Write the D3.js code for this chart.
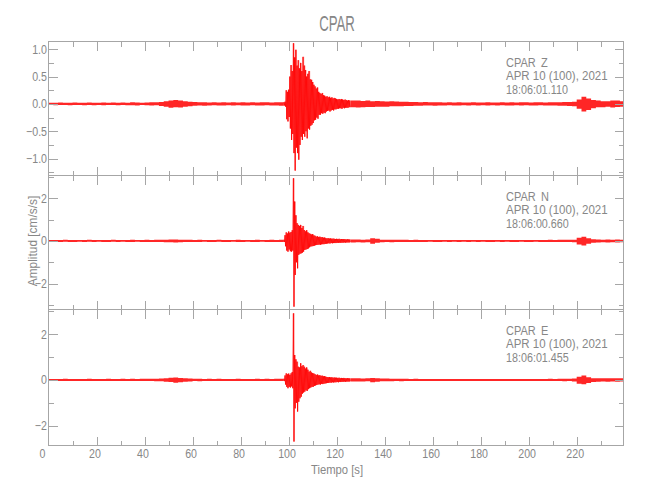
<!DOCTYPE html>
<html><head><meta charset="utf-8">
<script src="https://cdn.jsdelivr.net/npm/d3@7"></script>
<style>
body{margin:0;background:#fff}
text{font-family:"Liberation Sans",Arial,sans-serif;fill:#878787}
</style>
</head><body>
<svg id="chart" width="650" height="500"></svg>
<script>
// ---------------- data ----------------
const station = "CPAR";
const components = ["Z", "N", "E"];
const dateLabel = "APR 10 (100), 2021";
const startTimes = ["18:06:01.110", "18:06:00.660", "18:06:01.455"];
const xLabel = "Tiempo [s]";
const yLabel = "Amplitud [cm/s/s]";

const yLimits = [[-1.30, 1.15], [-3.18, 3.08], [-2.84, 3.10]];
const yMajorTicks = [[-1, -0.5, 0, 0.5, 1], [-2, 0, 2], [-2, 0, 2]];
const yMinorTicks = [[-1.25, -0.75, -0.25, 0.25, 0.75], [-3, -1, 1, 3], [-1, 1, 3]];
const yTickDecimals = [1, 0, 0];
const xLimits = [0, 239.5];
const xMajorTicks = [0, 20, 40, 60, 80, 100, 120, 140, 160, 180, 200, 220];
const xMinorTicks = [10, 30, 50, 70, 90, 110, 130, 150, 170, 190, 210, 230];

// sampling segments: [start time, step] ; values are [max, min] envelope per sample
const segPre = [0, 2];
const segEvent = [98, 0.5];
const segPost = [126, 2];

const zPre = [[0.02,-0.02],[0.02,-0.025],[0.025,-0.02],[0.02,-0.02],[0.02,-0.025],[0.025,-0.02],[0.02,-0.02],[0.02,-0.025],[0.025,-0.02],[0.02,-0.025],[0.02,-0.02],[0.025,-0.025],[0.02,-0.02],[0.025,-0.02],[0.02,-0.025],[0.025,-0.02],[0.02,-0.025],[0.03,-0.025],[0.025,-0.03],[0.02,-0.02],[0.025,-0.025],[0.03,-0.03],[0.03,-0.025],[0.035,-0.04],[0.05,-0.05],[0.06,-0.07],[0.07,-0.06],[0.06,-0.065],[0.05,-0.05],[0.04,-0.045],[0.035,-0.035],[0.03,-0.03],[0.03,-0.035],[0.025,-0.03],[0.03,-0.025],[0.025,-0.03],[0.03,-0.03],[0.025,-0.025],[0.03,-0.03],[0.025,-0.025],[0.03,-0.03],[0.025,-0.03],[0.03,-0.025],[0.025,-0.03],[0.03,-0.03],[0.03,-0.025],[0.025,-0.03],[0.03,-0.03],[0.03,-0.035]];
const zEvent = [[0.03,-0.03],[0.04,-0.05],[0.25,-0.28],[0.22,-0.32],[0.26,-0.24],[0.5,-0.45],[0.71,-0.66],[0.6,-0.55],[1.11,-0.9],[0.85,-1.22],[0.99,-0.8],[0.7,-0.9],[0.8,-1.02],[0.65,-0.75],[0.75,-0.6],[0.6,-0.66],[0.86,-0.55],[0.7,-0.6],[0.62,-0.5],[0.5,-0.63],[0.55,-0.45],[0.6,-0.47],[0.45,-0.4],[0.44,-0.38],[0.4,-0.35],[0.35,-0.3],[0.32,-0.29],[0.28,-0.25],[0.3,-0.27],[0.22,-0.2],[0.2,-0.2],[0.18,-0.17],[0.2,-0.18],[0.16,-0.16],[0.15,-0.17],[0.13,-0.14],[0.14,-0.13],[0.12,-0.12],[0.13,-0.14],[0.11,-0.12],[0.12,-0.11],[0.1,-0.12],[0.11,-0.1],[0.1,-0.1],[0.09,-0.09],[0.08,-0.09],[0.09,-0.08],[0.08,-0.08],[0.09,-0.09],[0.08,-0.07],[0.07,-0.08],[0.08,-0.07],[0.07,-0.07],[0.06,-0.07],[0.07,-0.06],[0.06,-0.06]];
const zPost = [[0.06,-0.06],[0.06,-0.065],[0.055,-0.06],[0.06,-0.055],[0.05,-0.055],[0.055,-0.05],[0.05,-0.05],[0.045,-0.05],[0.05,-0.045],[0.045,-0.045],[0.04,-0.045],[0.04,-0.04],[0.035,-0.04],[0.035,-0.035],[0.03,-0.035],[0.035,-0.03],[0.03,-0.03],[0.03,-0.035],[0.03,-0.03],[0.025,-0.03],[0.03,-0.025],[0.025,-0.03],[0.03,-0.03],[0.025,-0.025],[0.025,-0.03],[0.03,-0.025],[0.025,-0.03],[0.025,-0.025],[0.03,-0.03],[0.025,-0.025],[0.025,-0.03],[0.03,-0.025],[0.025,-0.03],[0.03,-0.03],[0.025,-0.025],[0.03,-0.03],[0.03,-0.025],[0.025,-0.03],[0.03,-0.03],[0.03,-0.025],[0.025,-0.03],[0.03,-0.03],[0.03,-0.03],[0.03,-0.035],[0.035,-0.035],[0.035,-0.04],[0.04,-0.045],[0.08,-0.09],[0.13,-0.14],[0.1,-0.11],[0.07,-0.08],[0.06,-0.06],[0.05,-0.06],[0.05,-0.05],[0.06,-0.065],[0.06,-0.055],[0.05,-0.05]];

const nPre = [[0.04,-0.045],[0.045,-0.04],[0.04,-0.045],[0.05,-0.04],[0.04,-0.045],[0.045,-0.05],[0.04,-0.04],[0.045,-0.045],[0.05,-0.04],[0.04,-0.045],[0.045,-0.04],[0.04,-0.05],[0.045,-0.045],[0.05,-0.04],[0.04,-0.045],[0.045,-0.04],[0.04,-0.045],[0.05,-0.05],[0.045,-0.04],[0.04,-0.045],[0.05,-0.045],[0.045,-0.05],[0.05,-0.045],[0.055,-0.05],[0.06,-0.06],[0.07,-0.065],[0.065,-0.07],[0.06,-0.06],[0.055,-0.05],[0.05,-0.05],[0.045,-0.05],[0.05,-0.045],[0.045,-0.04],[0.04,-0.045],[0.045,-0.045],[0.05,-0.04],[0.045,-0.045],[0.04,-0.05],[0.045,-0.04],[0.05,-0.045],[0.045,-0.045],[0.04,-0.04],[0.045,-0.05],[0.05,-0.045],[0.045,-0.04],[0.04,-0.045],[0.05,-0.05],[0.045,-0.045],[0.05,-0.05]];
const nEvent = [[0.05,-0.05],[0.27,-0.25],[0.4,-0.45],[0.35,-0.5],[0.44,-0.4],[0.38,-0.48],[0.42,-0.5],[0.5,-0.45],[2.93,-3.07],[1.84,-1.59],[1.2,-1.0],[0.83,-1.28],[0.75,-0.65],[0.7,-0.6],[0.75,-0.58],[0.6,-0.55],[0.7,-0.5],[0.51,-0.42],[0.45,-0.4],[0.5,-0.38],[0.4,-0.35],[0.36,-0.3],[0.33,-0.26],[0.3,-0.25],[0.32,-0.24],[0.26,-0.22],[0.24,-0.2],[0.2,-0.19],[0.22,-0.18],[0.18,-0.17],[0.2,-0.18],[0.17,-0.16],[0.18,-0.15],[0.15,-0.15],[0.16,-0.14],[0.13,-0.13],[0.12,-0.12],[0.13,-0.11],[0.11,-0.12],[0.12,-0.1],[0.1,-0.11],[0.11,-0.1],[0.1,-0.1],[0.09,-0.1],[0.1,-0.09],[0.09,-0.09],[0.1,-0.08],[0.08,-0.09],[0.09,-0.08],[0.08,-0.08],[0.09,-0.07],[0.08,-0.08],[0.07,-0.07],[0.08,-0.07],[0.07,-0.07],[0.07,-0.06]];
const nPost = [[0.07,-0.07],[0.07,-0.065],[0.06,-0.07],[0.07,-0.06],[0.12,-0.13],[0.1,-0.09],[0.06,-0.06],[0.06,-0.055],[0.055,-0.06],[0.05,-0.05],[0.05,-0.055],[0.05,-0.045],[0.045,-0.05],[0.05,-0.045],[0.045,-0.045],[0.04,-0.045],[0.045,-0.04],[0.04,-0.045],[0.045,-0.045],[0.04,-0.04],[0.04,-0.045],[0.045,-0.04],[0.04,-0.045],[0.04,-0.04],[0.045,-0.045],[0.04,-0.04],[0.04,-0.045],[0.045,-0.04],[0.04,-0.045],[0.045,-0.045],[0.04,-0.04],[0.04,-0.045],[0.045,-0.04],[0.04,-0.045],[0.045,-0.045],[0.04,-0.04],[0.045,-0.045],[0.04,-0.045],[0.045,-0.04],[0.04,-0.045],[0.045,-0.045],[0.05,-0.045],[0.045,-0.05],[0.05,-0.05],[0.05,-0.055],[0.055,-0.05],[0.06,-0.065],[0.15,-0.17],[0.2,-0.21],[0.12,-0.13],[0.08,-0.08],[0.07,-0.075],[0.06,-0.065],[0.07,-0.07],[0.06,-0.065],[0.07,-0.07],[0.06,-0.06]];

const ePre = [[0.045,-0.04],[0.04,-0.045],[0.045,-0.045],[0.05,-0.04],[0.04,-0.045],[0.045,-0.05],[0.045,-0.04],[0.04,-0.045],[0.05,-0.045],[0.045,-0.04],[0.04,-0.045],[0.045,-0.05],[0.05,-0.045],[0.045,-0.04],[0.04,-0.045],[0.05,-0.05],[0.045,-0.045],[0.05,-0.045],[0.045,-0.05],[0.05,-0.045],[0.05,-0.05],[0.055,-0.05],[0.05,-0.055],[0.06,-0.055],[0.07,-0.075],[0.1,-0.09],[0.11,-0.12],[0.09,-0.1],[0.07,-0.075],[0.06,-0.065],[0.055,-0.05],[0.05,-0.055],[0.045,-0.05],[0.05,-0.045],[0.045,-0.045],[0.05,-0.05],[0.045,-0.045],[0.04,-0.045],[0.045,-0.05],[0.05,-0.045],[0.045,-0.04],[0.04,-0.045],[0.045,-0.045],[0.05,-0.05],[0.045,-0.045],[0.05,-0.045],[0.045,-0.05],[0.05,-0.05],[0.055,-0.05]];
const eEvent = [[0.05,-0.05],[0.2,-0.2],[0.29,-0.3],[0.25,-0.36],[0.28,-0.3],[0.22,-0.33],[0.29,-0.28],[0.35,-0.36],[2.91,-2.69],[1.09,-1.24],[0.9,-1.0],[0.8,-1.38],[0.58,-0.95],[0.55,-0.8],[0.73,-0.73],[0.6,-0.6],[0.65,-0.55],[0.58,-0.51],[0.5,-0.45],[0.55,-0.48],[0.45,-0.4],[0.36,-0.36],[0.4,-0.33],[0.33,-0.3],[0.3,-0.3],[0.28,-0.26],[0.25,-0.24],[0.22,-0.22],[0.24,-0.2],[0.2,-0.19],[0.21,-0.2],[0.18,-0.17],[0.19,-0.18],[0.16,-0.16],[0.17,-0.15],[0.14,-0.14],[0.13,-0.13],[0.12,-0.13],[0.13,-0.11],[0.11,-0.12],[0.12,-0.1],[0.1,-0.11],[0.11,-0.1],[0.1,-0.1],[0.1,-0.09],[0.09,-0.1],[0.1,-0.08],[0.08,-0.09],[0.09,-0.08],[0.08,-0.08],[0.09,-0.07],[0.08,-0.08],[0.07,-0.07],[0.08,-0.07],[0.07,-0.07],[0.07,-0.06]];
const ePost = [[0.07,-0.07],[0.07,-0.065],[0.065,-0.07],[0.07,-0.06],[0.09,-0.095],[0.08,-0.075],[0.06,-0.06],[0.06,-0.055],[0.055,-0.06],[0.05,-0.05],[0.05,-0.055],[0.05,-0.045],[0.045,-0.05],[0.05,-0.045],[0.045,-0.045],[0.04,-0.045],[0.045,-0.04],[0.045,-0.045],[0.045,-0.045],[0.04,-0.04],[0.045,-0.045],[0.045,-0.04],[0.04,-0.045],[0.045,-0.045],[0.045,-0.045],[0.04,-0.04],[0.045,-0.045],[0.045,-0.04],[0.04,-0.045],[0.045,-0.045],[0.045,-0.04],[0.04,-0.045],[0.045,-0.045],[0.045,-0.045],[0.045,-0.045],[0.04,-0.045],[0.045,-0.045],[0.045,-0.045],[0.045,-0.04],[0.045,-0.045],[0.045,-0.045],[0.05,-0.045],[0.045,-0.05],[0.05,-0.05],[0.05,-0.055],[0.055,-0.05],[0.06,-0.065],[0.14,-0.16],[0.2,-0.19],[0.12,-0.13],[0.08,-0.085],[0.07,-0.075],[0.07,-0.07],[0.08,-0.075],[0.07,-0.07],[0.08,-0.08],[0.07,-0.07]];

const traces = [[zPre, zEvent, zPost], [nPre, nEvent, nPost], [ePre, eEvent, ePost]];
const segments = [segPre, segEvent, segPost];

// ---------------- layout ----------------
const W = 650, H = 500;
const left = 48.5, right = 623.5;
const panelTops = [41, 175, 309];
const panelBottoms = [175, 309, 445];
const axisColor = "#a6a6a6";
const traceColor = "#ff0000";

const svg = d3.select("#chart");
svg.append("rect").attr("width", W).attr("height", H).attr("fill", "#fff");

function narrow(sel, k) {
  const n = sel.node();
  const len = n.getComputedTextLength();
  sel.attr("textLength", len * k).attr("lengthAdjust", "spacingAndGlyphs");
  return sel;
}

const x = d3.scaleLinear().domain(xLimits).range([left, right]);

narrow(svg.append("text").attr("x", 337).attr("y", 31).attr("text-anchor", "middle")
  .style("font-size", "22px").text(station), 0.6);

components.forEach((comp, p) => {
  const top = panelTops[p], bot = panelBottoms[p];
  const y = d3.scaleLinear().domain(yLimits[p]).range([bot, top]);
  const g = svg.append("g");

  const cid = "clip" + p;
  svg.append("clipPath").attr("id", cid).append("rect")
    .attr("x", left).attr("y", top).attr("width", right - left).attr("height", bot - top);

  // envelope samples -> time-stamped records
  const recs = [];
  traces[p].forEach((seg, s) => {
    const [t0, dt] = segments[s];
    seg.forEach((v, i) => recs.push({ t: t0 + i * dt, dt: dt, hi: v[0], lo: v[1], ev: s === 1 }));
  });
  const area = d3.area().x(d => x(d.t)).y0(d => y(d.lo)).y1(d => y(d.hi)).curve(d3.curveStepAfter);
  // each step covers its own sampling interval
  const withEnd = arr => { const l = arr[arr.length - 1]; return arr.concat([{ ...l, t: l.t + l.dt }]); };
  const quietA = recs.filter(r => r.t < segEvent[0]);
  const evRecs = recs.filter(r => r.ev);
  const quietB = recs.filter(r => r.t >= segPost[0]);
  [quietA, quietB].forEach(q => {
    g.append("path").attr("d", area(withEnd(q))).attr("clip-path", `url(#${cid})`)
      .attr("fill", traceColor).attr("fill-opacity", 0.85);
  });
  // event part: translucent envelope + oscillating trace through the extremes
  g.append("path").attr("d", area(withEnd(evRecs))).attr("clip-path", `url(#${cid})`)
    .attr("fill", traceColor).attr("fill-opacity", 0.42);
  const pts = [];
  evRecs.forEach(r => { pts.push([r.t, r.hi]); pts.push([r.t + r.dt / 2, r.lo]); });
  const line = d3.line().x(d => x(d[0])).y(d => y(d[1]));
  g.append("path").attr("d", line(pts)).attr("clip-path", `url(#${cid})`)
    .attr("fill", "none").attr("stroke", traceColor).attr("stroke-width", 0.8);

  // frame
  g.append("rect").attr("x", left).attr("y", top + 0.5).attr("width", right - left).attr("height", bot - top)
    .attr("fill", "none").attr("stroke", axisColor).attr("stroke-width", 1).attr("shape-rendering", "crispEdges");

  const tk = g.append("g").attr("stroke", axisColor).attr("stroke-width", 1).attr("shape-rendering", "crispEdges");
  const xt = xMajorTicks.map(v => [v, 9]).concat(xMinorTicks.map(v => [v, 5]));
  xt.forEach(([v, len]) => {
    if (v <= xLimits[0]) return;
    const px = Math.round(x(v)) + 0.5;
    tk.append("line").attr("x1", px).attr("x2", px).attr("y1", bot + 0.5).attr("y2", bot + 0.5 - len);
    tk.append("line").attr("x1", px).attr("x2", px).attr("y1", top + 0.5).attr("y2", top + 0.5 + len);
  });
  const yt = yMajorTicks[p].map(v => [v, 9]).concat(yMinorTicks[p].map(v => [v, 5]));
  yt.forEach(([v, len]) => {
    const py = Math.round(y(v)) + 0.5;
    tk.append("line").attr("x1", left).attr("x2", left + len).attr("y1", py).attr("y2", py);
    tk.append("line").attr("x1", right).attr("x2", right - len).attr("y1", py).attr("y2", py);
  });
  yMajorTicks[p].forEach(v => {
    const s = (v < 0 ? "\u2212" : "") + Math.abs(v).toFixed(yTickDecimals[p]);
    narrow(g.append("text").attr("x", left - 1.5).attr("y", y(v) + 4.5).attr("text-anchor", "end")
      .style("font-size", "12.5px").text(s), 0.85);
  });

  const ty = top + 25.5;
  narrow(g.append("text").attr("x", 506).attr("y", ty).style("font-size", "12.5px").text(station), 0.88);
  narrow(g.append("text").attr("x", 541).attr("y", ty).style("font-size", "12.5px").text(comp), 0.88);
  narrow(g.append("text").attr("x", 506).attr("y", ty + 13.5).style("font-size", "12.5px").text(dateLabel), 0.92);
  narrow(g.append("text").attr("x", 506).attr("y", ty + 27).style("font-size", "12.5px").text(startTimes[p]), 0.86);

  if (p === components.length - 1) {
    xMajorTicks.forEach(v => {
      narrow(g.append("text").attr("x", x(v) - (v === 0 ? 6 : 1.5)).attr("y", bot + 12.5).attr("text-anchor", "middle")
        .style("font-size", "12.5px").text(v), 0.85);
    });
  }
});

narrow(svg.append("text").attr("x", 337).attr("y", 474).attr("text-anchor", "middle")
  .style("font-size", "12.5px").text(xLabel), 0.9);
narrow(svg.append("text").attr("transform", "translate(37,241) rotate(-90)").attr("text-anchor", "middle")
  .style("font-size", "12.5px").text(yLabel), 0.95);
</script>
</body></html>
